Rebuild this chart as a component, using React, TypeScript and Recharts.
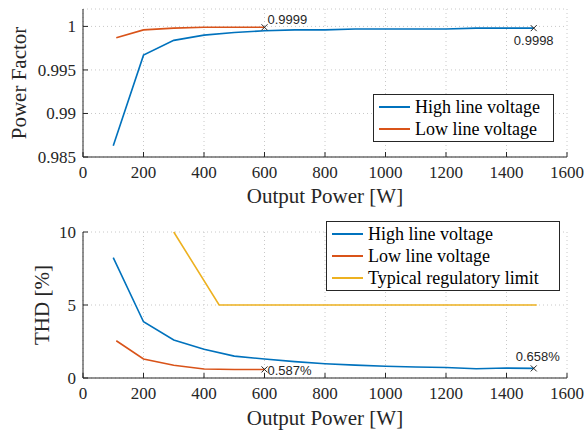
import React from 'react';
import { LineChart, Line, XAxis, YAxis, CartesianGrid, Legend } from 'recharts';

const powerTicks = [0, 200, 400, 600, 800, 1000, 1200, 1400, 1600];
const pfTicks = [0.985, 0.99, 0.995, 1];
const thdTicks = [0, 5, 10];

const highPower = [100, 200, 300, 400, 500, 600, 700, 800, 900, 1000, 1100, 1200, 1300, 1400, 1490];
const highPF = [0.9863, 0.9967, 0.9984, 0.999, 0.9993, 0.9995, 0.9996, 0.9996, 0.9997, 0.9997, 0.9997, 0.9997, 0.9998, 0.9998, 0.9998];
const highTHD = [8.25, 3.85, 2.6, 1.97, 1.5, 1.3, 1.12, 0.98, 0.88, 0.8, 0.75, 0.72, 0.63, 0.68, 0.658];

const lowPower = [110, 200, 300, 400, 500, 600];
const lowPF = [0.9987, 0.9996, 0.9998, 0.9999, 0.9999, 0.9999];
const lowTHD = [2.55, 1.3, 0.87, 0.62, 0.58, 0.587];

const limitPower = [300, 450, 1500];
const limitTHD = [10, 5, 5];

const BLUE = '#0072BD';
const ORANGE = '#D95319';
const YELLOW = '#EDB120';
const INK = '#262626';
const SERIF = '"Liberation Serif", "DejaVu Serif", serif';
const SANS = '"Liberation Sans", Arial, sans-serif';

const toRows = (xs: number[], ys: number[]) => xs.map((p, i) => ({ p, v: ys[i] }));

// draws an "x" and a value label on the last point only
const endMark = (last: number, label: string, dx: number, dy: number, anchor: string) => (props: any) => {
  const { cx, cy, index } = props;
  if (index !== last) return <g key={index} />;
  return (
    <g key={index}>
      <path d={`M${cx - 3},${cy - 3}L${cx + 3},${cy + 3}M${cx - 3},${cy + 3}L${cx + 3},${cy - 3}`} stroke={INK} strokeWidth={1} />
      <text x={cx + dx} y={cy + dy} textAnchor={anchor} style={{ fontFamily: SANS, fontSize: 13, fill: INK }}>
        {label}
      </text>
    </g>
  );
};

const SerifTick = (props: any) => {
  const { x, y, payload, textAnchor, orientation } = props;
  const dy = orientation === 'bottom' ? '0.75em' : '0.35em';
  return (
    <text x={x} y={y} dy={dy} textAnchor={textAnchor} style={{ fontFamily: SERIF, fontSize: 17, fill: INK }}>
      {String(payload.value)}
    </text>
  );
};

const yLabel = (text: string, offset: number) => (props: any) => {
  const vb = props.viewBox;
  const cx = vb.x + offset;
  const cy = vb.y + vb.height / 2;
  return (
    <text x={cx} y={cy} transform={`rotate(-90 ${cx} ${cy})`} textAnchor="middle" dominantBaseline="central"
      style={{ fontFamily: SERIF, fontSize: 21, fill: INK }}>
      {text}
    </text>
  );
};

const xLabel = (text: string, offset: number) => (props: any) => {
  const vb = props.viewBox;
  const cx = vb.x + vb.width / 2;
  const cy = vb.y + vb.height - offset;
  return (
    <text x={cx} y={cy} textAnchor="middle" dominantBaseline="central" style={{ fontFamily: SERIF, fontSize: 21, fill: INK }}>
      {text}
    </text>
  );
};

const LegendBox = ({ items, width }: { items: { name: string; color: string }[]; width: number }) => (
  <div style={{ width, border: `1px solid ${INK}`, background: '#fff', padding: '1px 0', boxSizing: 'border-box' }}>
    {items.map((it) => (
      <div key={it.name} style={{ display: 'flex', alignItems: 'center', height: 22, fontFamily: SERIF, fontSize: 18, color: '#000' }}>
        <div style={{ width: 31, height: 0, borderTop: `2px solid ${it.color}`, marginLeft: 5, marginRight: 5 }} />
        <span>{it.name}</span>
      </div>
    ))}
  </div>
);

function PFChart() {
  return (
    <LineChart width={587} height={210} margin={{ top: 9, right: 20, bottom: 0, left: 0 }}>
      <CartesianGrid stroke="#c8c8c8" strokeDasharray="1 3" />
      <XAxis
        type="number" dataKey="p" domain={[0, 1600]} ticks={powerTicks} height={53}
        tickSize={-5} tickMargin={13} stroke={INK} tick={<SerifTick />}
        label={{ content: xLabel('Output Power [W]', 14) }}
      />
      <XAxis xAxisId="top" orientation="top" type="number" dataKey="p" domain={[0, 1600]} ticks={powerTicks} height={0} tickSize={-5} tick={false} stroke={INK} />
      <YAxis
        type="number" domain={[0.985, 1.002]} ticks={pfTicks} width={83} allowDataOverflow
        tickSize={-5} tickMargin={12} stroke={INK} tick={<SerifTick />}
        label={{ content: yLabel('Power Factor', 19) }}
      />
      <YAxis yAxisId="right" orientation="right" type="number" domain={[0.985, 1.002]} ticks={pfTicks} width={0} tickSize={-5} tick={false} stroke={INK} />
      <Line data={toRows(highPower, highPF)} dataKey="v" name="High line voltage" stroke={BLUE} strokeWidth={1.6} isAnimationActive={false}
        dot={endMark(highPower.length - 1, '0.9998', 0, 17, 'middle')} activeDot={false} />
      <Line data={toRows(lowPower, lowPF)} dataKey="v" name="Low line voltage" stroke={ORANGE} strokeWidth={1.6} isAnimationActive={false}
        dot={endMark(lowPower.length - 1, '0.9999', 3, -3, 'start')} activeDot={false} />
      <Legend layout="vertical" align="center" verticalAlign="middle" wrapperStyle={{ left: 373, top: 94, width: 181 }}
        content={() => <LegendBox width={181} items={[{ name: 'High line voltage', color: BLUE }, { name: 'Low line voltage', color: ORANGE }]} />} />
    </LineChart>
  );
}

function THDChart() {
  return (
    <LineChart width={587} height={224} margin={{ top: 22, right: 20, bottom: 0, left: 0 }}>
      <CartesianGrid stroke="#c8c8c8" strokeDasharray="1 3" />
      <XAxis
        type="number" dataKey="p" domain={[0, 1600]} ticks={powerTicks} height={56}
        tickSize={-5} tickMargin={13} stroke={INK} tick={<SerifTick />}
        label={{ content: xLabel('Output Power [W]', 16) }}
      />
      <XAxis xAxisId="top" orientation="top" type="number" dataKey="p" domain={[0, 1600]} ticks={powerTicks} height={0} tickSize={-5} tick={false} stroke={INK} />
      <YAxis
        type="number" domain={[0, 10]} ticks={thdTicks} width={83}
        tickSize={-5} tickMargin={12} stroke={INK} tick={<SerifTick />}
        label={{ content: yLabel('THD [%]', 42) }}
      />
      <YAxis yAxisId="right" orientation="right" type="number" domain={[0, 10]} ticks={thdTicks} width={0} tickSize={-5} tick={false} stroke={INK} />
      <Line data={toRows(limitPower, limitTHD)} dataKey="v" name="Typical regulatory limit" stroke={YELLOW} strokeWidth={1.6} isAnimationActive={false} dot={false} activeDot={false} />
      <Line data={toRows(highPower, highTHD)} dataKey="v" name="High line voltage" stroke={BLUE} strokeWidth={1.6} isAnimationActive={false}
        dot={endMark(highPower.length - 1, '0.658%', 4, -7, 'middle')} activeDot={false} />
      <Line data={toRows(lowPower, lowTHD)} dataKey="v" name="Low line voltage" stroke={ORANGE} strokeWidth={1.6} isAnimationActive={false}
        dot={endMark(lowPower.length - 1, '0.587%', 3, 6, 'start')} activeDot={false} />
      <Legend layout="vertical" align="center" verticalAlign="middle" wrapperStyle={{ left: 326, top: 11, width: 234 }}
        content={() => (
          <LegendBox width={234} items={[
            { name: 'High line voltage', color: BLUE },
            { name: 'Low line voltage', color: ORANGE },
            { name: 'Typical regulatory limit', color: YELLOW },
          ]} />
        )} />
    </LineChart>
  );
}

export default function App() {
  return (
    <div style={{ position: 'absolute', left: 0, top: 0, width: 587, height: 434, background: '#fff' }}>
      <div style={{ position: 'absolute', left: 0, top: 0 }}>
        <PFChart />
      </div>
      <div style={{ position: 'absolute', left: 0, top: 210 }}>
        <THDChart />
      </div>
    </div>
  );
}
